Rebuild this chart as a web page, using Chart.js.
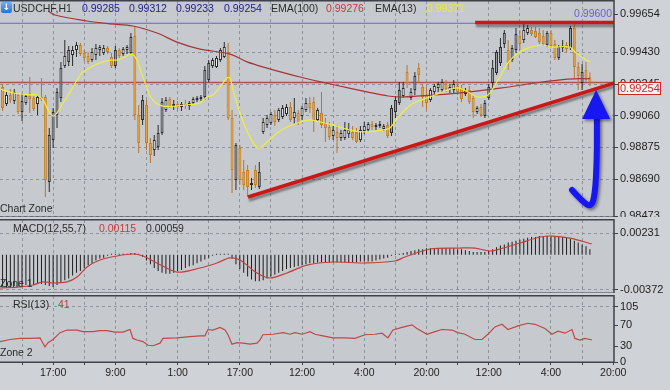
<!DOCTYPE html>
<html>
<head>
<meta charset="utf-8">
<script src="https://cdn.jsdelivr.net/npm/chart.js@4.4.1/dist/chart.umd.min.js"></script>
<style>
    html, body { margin: 0; padding: 0; }
    body {
        width: 670px; height: 390px; position: relative; overflow: hidden;
        background: #cfd2d6;
        font-family: "Liberation Sans", Arial, sans-serif;
    }
    canvas { position: absolute; left: 0; }
    .t { position: absolute; font-size: 10.5px; line-height: 12px; white-space: nowrap; color: #2b2b2b; z-index: 5; }
    .blue { color: #22228a; }
    .red { color: #c23b3b; }
    .yel { color: #e9e93c; }
    .icon {
        position: absolute; left: 1px; top: 2px; width: 11px; height: 11px; z-index: 5;
        background: linear-gradient(#6fb0f0, #2d6fd0); border-radius: 2px;
        color: #fff; font: bold 9px "DejaVu Sans", sans-serif; line-height: 11px; text-align: center;
    }
</style>
</head>
<body>
<canvas id="main" width="670" height="217" style="top:0"></canvas>
<canvas id="macd" width="670" height="74" style="top:219px"></canvas>
<canvas id="rsi" width="670" height="96" style="top:294px"></canvas>

<div class="icon">↓</div>
<span class="t" style="left:13px;top:2px">USDCHF,H1</span>
<span class="t blue" style="left:82px;top:2px">0.99285</span>
<span class="t blue" style="left:129px;top:2px">0.99312</span>
<span class="t blue" style="left:176px;top:2px">0.99233</span>
<span class="t blue" style="left:224px;top:2px">0.99254</span>
<span class="t" style="left:271px;top:2px">EMA(100)</span>
<span class="t red" style="left:326px;top:2px">0.99276</span>
<span class="t" style="left:375px;top:2px">EMA(13)</span>
<span class="t yel" style="left:427px;top:2px">0.99371</span>
<span class="t" style="left:0;top:202px">Chart Zone</span>

<span class="t" style="left:13px;top:222px">MACD(12,55,7)</span>
<span class="t red" style="left:99px;top:222px">0.00115</span>
<span class="t" style="left:146px;top:222px">0.00059</span>
<span class="t" style="left:0;top:277px">Zone 1</span>

<span class="t" style="left:13px;top:298px">RSI(13)</span>
<span class="t red" style="left:58px;top:298px">41</span>
<span class="t" style="left:0;top:346px">Zone 2</span>

<script>
// bar index of the first visible candle (grid line 0 = 17:00 minus 8 bars)
const firstBar = -5;

const opens = [
    0.99227, 0.99128, 0.99181, 0.99146, 0.99181, 0.99081, 0.99134, 0.99175, 0.99163, 0.99128,
    0.99169, 0.99169, 0.98672, 0.98918, 0.99064, 0.99163, 0.99350, 0.99374, 0.99414, 0.99444,
    0.99473, 0.99426, 0.99409, 0.99385, 0.99414, 0.99444, 0.99426, 0.99455, 0.99403, 0.99350,
    0.99444, 0.99420, 0.99444, 0.99426, 0.99525, 0.99064, 0.99035, 0.99122, 0.98900, 0.98859,
    0.98877, 0.98959, 0.99093, 0.99157, 0.99116, 0.99128, 0.99111, 0.99128, 0.99116, 0.99134,
    0.99152, 0.99157, 0.99169, 0.99268, 0.99350, 0.99344, 0.99385, 0.99403, 0.99432, 0.99046,
    0.98684, 0.98871, 0.98731, 0.98743, 0.98655, 0.98743, 0.98643, 0.98965, 0.99006, 0.99017,
    0.99064, 0.99035, 0.99052, 0.99070, 0.99111, 0.99046, 0.99076, 0.99058, 0.99093, 0.99134,
    0.99140, 0.99035, 0.99076, 0.99017, 0.98994, 0.98941, 0.98965, 0.98929, 0.98929, 0.98953,
    0.98965, 0.98965, 0.98918, 0.98970, 0.98976, 0.99011, 0.98994, 0.99000, 0.98982, 0.99006,
    0.98959, 0.99081, 0.99134, 0.99175, 0.99315, 0.99163, 0.99210, 0.99338, 0.99227, 0.99181,
    0.99152, 0.99198, 0.99222, 0.99210, 0.99245, 0.99210, 0.99210, 0.99233, 0.99222, 0.99187,
    0.99210, 0.99163, 0.99081, 0.99111, 0.99058, 0.99163, 0.99251, 0.99309, 0.99368, 0.99479,
    0.99444, 0.99385, 0.99444, 0.99525, 0.99502, 0.99543, 0.99561, 0.99555, 0.99543, 0.99525,
    0.99473, 0.99543, 0.99479, 0.99397, 0.99455, 0.99473, 0.99455, 0.99572, 0.99344, 0.99251,
    0.99327, 0.99285
];
const highs = [
    0.99245, 0.99198, 0.99216, 0.99216, 0.99192, 0.99192, 0.99187, 0.99286, 0.99175, 0.99181,
    0.99280, 0.99181, 0.98988, 0.99105, 0.99222, 0.99374, 0.99502, 0.99467, 0.99467, 0.99490,
    0.99485, 0.99444, 0.99432, 0.99455, 0.99479, 0.99473, 0.99473, 0.99467, 0.99426, 0.99467,
    0.99455, 0.99461, 0.99473, 0.99543, 0.99578, 0.99122, 0.99181, 0.99152, 0.98929, 0.98947,
    0.99006, 0.99163, 0.99169, 0.99169, 0.99152, 0.99146, 0.99140, 0.99152, 0.99146, 0.99169,
    0.99175, 0.99181, 0.99350, 0.99385, 0.99397, 0.99409, 0.99455, 0.99490, 0.99485, 0.99093,
    0.98900, 0.98889, 0.98801, 0.98772, 0.98696, 0.98772, 0.98789, 0.99046, 0.99064, 0.99081,
    0.99093, 0.99105, 0.99122, 0.99128, 0.99140, 0.99163, 0.99093, 0.99116, 0.99163, 0.99169,
    0.99169, 0.99105, 0.99198, 0.99046, 0.99023, 0.99000, 0.99006, 0.98976, 0.99023, 0.99017,
    0.99000, 0.98988, 0.99000, 0.99023, 0.99023, 0.99029, 0.99017, 0.99029, 0.99011, 0.99023,
    0.99122, 0.99175, 0.99257, 0.99257, 0.99356, 0.99222, 0.99315, 0.99368, 0.99245, 0.99227,
    0.99222, 0.99245, 0.99257, 0.99274, 0.99268, 0.99245, 0.99268, 0.99257, 0.99239, 0.99222,
    0.99233, 0.99181, 0.99116, 0.99128, 0.99152, 0.99245, 0.99385, 0.99444, 0.99514, 0.99561,
    0.99502, 0.99473, 0.99572, 0.99561, 0.99601, 0.99590, 0.99578, 0.99578, 0.99572, 0.99561,
    0.99555, 0.99561, 0.99502, 0.99473, 0.99502, 0.99490, 0.99584, 0.99601, 0.99374, 0.99362,
    0.99374, 0.99312
];
const lows = [
    0.99087, 0.99116, 0.99134, 0.99128, 0.99070, 0.99029, 0.99122, 0.99076, 0.99087, 0.99064,
    0.99146, 0.98585, 0.98614, 0.98871, 0.98988, 0.99140, 0.99338, 0.99350, 0.99350, 0.99403,
    0.99409, 0.99379, 0.99362, 0.99374, 0.99385, 0.99409, 0.99414, 0.99420, 0.99338, 0.99338,
    0.99397, 0.99409, 0.99420, 0.99420, 0.99035, 0.98842, 0.99006, 0.98859, 0.98783, 0.98824,
    0.98859, 0.98947, 0.99081, 0.99105, 0.99093, 0.99093, 0.99087, 0.99099, 0.99093, 0.99128,
    0.99140, 0.99146, 0.99152, 0.99257, 0.99338, 0.99338, 0.99374, 0.99397, 0.99035, 0.98608,
    0.98626, 0.98655, 0.98626, 0.98585, 0.98626, 0.98637, 0.98631, 0.98953, 0.98988, 0.99006,
    0.99000, 0.99023, 0.99041, 0.99058, 0.99023, 0.99011, 0.99006, 0.99035, 0.99081, 0.99076,
    0.98965, 0.99023, 0.98988, 0.98906, 0.98918, 0.98918, 0.98842, 0.98912, 0.98918, 0.98929,
    0.98918, 0.98900, 0.98906, 0.98953, 0.98965, 0.98976, 0.98976, 0.98988, 0.98970, 0.98929,
    0.98941, 0.99046, 0.99122, 0.99163, 0.99222, 0.99152, 0.99181, 0.99257, 0.99111, 0.99093,
    0.99140, 0.99181, 0.99198, 0.99198, 0.99198, 0.99192, 0.99192, 0.99181, 0.99140, 0.99175,
    0.99128, 0.99046, 0.99070, 0.99052, 0.99046, 0.99152, 0.99222, 0.99298, 0.99350, 0.99455,
    0.99327, 0.99374, 0.99426, 0.99444, 0.99485, 0.99531, 0.99525, 0.99514, 0.99479, 0.99467,
    0.99461, 0.99455, 0.99385, 0.99385, 0.99432, 0.99432, 0.99444, 0.99280, 0.99210, 0.99210,
    0.99257, 0.99233
];
const closes = [
    0.99105, 0.99181, 0.99152, 0.99198, 0.99081, 0.99146, 0.99175, 0.99157, 0.99099, 0.99169,
    0.99157, 0.98684, 0.98947, 0.99081, 0.99198, 0.99338, 0.99409, 0.99444, 0.99444, 0.99473,
    0.99420, 0.99397, 0.99374, 0.99432, 0.99455, 0.99461, 0.99455, 0.99432, 0.99350, 0.99444,
    0.99409, 0.99449, 0.99461, 0.99520, 0.99064, 0.98900, 0.99152, 0.98900, 0.98830, 0.98918,
    0.98959, 0.99140, 0.99152, 0.99116, 0.99128, 0.99111, 0.99128, 0.99116, 0.99134, 0.99157,
    0.99163, 0.99169, 0.99327, 0.99368, 0.99385, 0.99397, 0.99444, 0.99461, 0.99046, 0.98743,
    0.98889, 0.98684, 0.98655, 0.98643, 0.98667, 0.98655, 0.98731, 0.99023, 0.99046, 0.99070,
    0.99023, 0.99093, 0.99105, 0.99111, 0.99035, 0.99081, 0.99017, 0.99105, 0.99134, 0.99105,
    0.99035, 0.99093, 0.99006, 0.98988, 0.98935, 0.98976, 0.98929, 0.98959, 0.98976, 0.98976,
    0.98929, 0.98906, 0.98976, 0.99000, 0.99011, 0.98994, 0.99006, 0.99011, 0.99000, 0.98941,
    0.99105, 0.99152, 0.99210, 0.99222, 0.99251, 0.99198, 0.99292, 0.99298, 0.99169, 0.99134,
    0.99210, 0.99233, 0.99245, 0.99257, 0.99216, 0.99227, 0.99245, 0.99198, 0.99157, 0.99204,
    0.99140, 0.99081, 0.99105, 0.99064, 0.99134, 0.99227, 0.99338, 0.99432, 0.99461, 0.99543,
    0.99368, 0.99455, 0.99537, 0.99479, 0.99561, 0.99572, 0.99537, 0.99520, 0.99490, 0.99479,
    0.99543, 0.99467, 0.99397, 0.99461, 0.99467, 0.99449, 0.99572, 0.99344, 0.99292, 0.99315,
    0.99268, 0.99254
];

// moving averages as (bar index, price)
const ema13Idx = [-5.66, -3.08, -0.51, 2.06, 3.86, 5.4, 6.68, 7.97, 9.0, 10.54, 12.34, 14.14, 15.68, 18.25, 20.82,
    22.62, 24.42, 26.48, 28.28, 29.56, 30.59, 31.88, 32.9, 34.45, 36.25, 39.33, 41.9, 44.47, 45.76, 47.56, 49.1,
    50.9, 52.7, 53.47, 54.24, 56.04, 58.1, 60.67, 62.98, 65.55, 68.12, 71.47, 74.04, 76.61, 79.95, 84.32, 88.17,
    92.54, 94.6, 96.66, 100.26, 102.83, 106.17, 109.51, 112.08, 114.65, 117.22, 119.79, 121.59, 123.39, 124.94,
    127.51, 130.08, 133.68, 136.25, 140.87, 142.16, 143.96, 146.02];
const ema13Vals = [0.99216, 0.99198, 0.99187, 0.99181, 0.99181, 0.99152, 0.99093, 0.99058, 0.99076, 0.99134, 0.99198,
    0.99268, 0.99315, 0.99350, 0.99374, 0.99385, 0.99385, 0.99403, 0.99420, 0.99385, 0.99315, 0.99239, 0.99175,
    0.99134, 0.99116, 0.99116, 0.99122, 0.99128, 0.99134, 0.99169, 0.99181, 0.99227, 0.99280, 0.99280, 0.99210,
    0.99076, 0.98959, 0.98871, 0.98906, 0.98959, 0.98994, 0.99023, 0.99035, 0.99023, 0.99006, 0.98976, 0.98965,
    0.98976, 0.98988, 0.99052, 0.99128, 0.99152, 0.99181, 0.99210, 0.99222, 0.99198, 0.99169, 0.99181, 0.99239,
    0.99309, 0.99368, 0.99426, 0.99455, 0.99473, 0.99461, 0.99461, 0.99432, 0.99403, 0.99374];

const ema100Idx = [6.68, 8.48, 16.71, 22.62, 28.53, 34.7, 39.85, 45.76, 53.47, 57.84, 62.98, 71.47, 80.46,
    88.95, 94.09, 97.69, 106.17, 114.65, 123.39, 131.88, 140.36, 146.02];
const ema100Vals = [0.99672, 0.99648, 0.99613, 0.99596, 0.99584, 0.99543, 0.99490, 0.99449, 0.99420, 0.99374,
    0.99338, 0.99286, 0.99239, 0.99198, 0.99175, 0.99169, 0.99181, 0.99198, 0.99222, 0.99251, 0.99274, 0.99276];

// MACD(12,55,7) histogram, one value per candle
const macdHist = [
    -0.0033, -0.0034, -0.0034, -0.0033, -0.0033, -0.0033, -0.0032, -0.0032, -0.0032, -0.0031,
    -0.0031, -0.0032, -0.0033, -0.0034, -0.0032, -0.0029, -0.0027, -0.0025, -0.0022, -0.0019,
    -0.0017, -0.0014, -0.0011, -0.0009, -0.0006, -0.0004, -0.0003, -0.0001, 0.0001, 0.0001,
    0.0001, 0.0001, 0.0001, 0.0002, 0.0002, 0.0001, -0.0002, -0.0006, -0.0010, -0.0014,
    -0.0017, -0.0019, -0.0020, -0.0020, -0.0019, -0.0017, -0.0016, -0.0014, -0.0012, -0.0011,
    -0.0009, -0.0007, -0.0005, -0.0003, -0.0001, 0.0001, 0.0001, 0.0001, 0.00005, -0.0004,
    -0.0010, -0.0015, -0.0019, -0.0023, -0.0026, -0.0028, -0.0028, -0.0027, -0.0025, -0.0023,
    -0.0021, -0.0019, -0.0017, -0.0015, -0.0014, -0.0013, -0.0012, -0.0011, -0.0010, -0.0009,
    -0.0009, -0.0008, -0.0008, -0.0008, -0.0008, -0.0008, -0.0008, -0.0008, -0.0008, -0.0008,
    -0.0008, -0.0008, -0.0007, -0.0007, -0.0007, -0.0007, -0.0006, -0.0005, -0.0004, -0.0003,
    -0.0001, 0.00005, 0.0001, 0.0002, 0.0003, 0.0004, 0.0005, 0.0006, 0.0006, 0.0007,
    0.0007, 0.0007, 0.0007, 0.0007, 0.0007, 0.0007, 0.0007, 0.0006, 0.0006, 0.0005,
    0.0004, 0.0003, 0.0003, 0.0003, 0.0003, 0.0004, 0.0006, 0.0008, 0.0010, 0.0011,
    0.0013, 0.0014, 0.0015, 0.0016, 0.0017, 0.0018, 0.0019, 0.0019, 0.0020, 0.0020,
    0.0020, 0.0020, 0.0020, 0.0019, 0.0019, 0.0018, 0.0017, 0.0015, 0.0013, 0.0011,
    0.0009, 0.0006
];
const sigIdx = [-5.66, -0.51, 2.83, 5.4, 7.97, 11.57, 14.14, 16.71, 20.05, 24.42, 28.53, 31.11, 34.7, 39.85,
    45.76, 50.13, 53.47, 56.04, 60.41, 63.75, 68.12, 73.26, 79.95, 88.17, 95.89, 98.46, 104.9, 112.6, 116.45,
    120.3, 122.9, 128.0, 133.2, 136.2, 140.9, 146.5];
const sigVals = [-0.00351, -0.00340, -0.00319, -0.00287, -0.00298, -0.00287, -0.00235, -0.00129, -0.00055,
    -0.00012, 0.00009, -0.00012, -0.00086, -0.00182, -0.00139, -0.00086, -0.00033, -0.00055, -0.00192, -0.00245,
    -0.00192, -0.00108, -0.00076, -0.00086, -0.00065, -0.00023, 0.00062, 0.00072, 0.00072, 0.00041, 0.00062,
    0.00125, 0.00189, 0.00199, 0.00178, 0.00115];

// RSI(13)
const rsiIdx = [-5.66, -3.08, -0.51, 2.06, 4.63, 5.14, 5.91, 6.68, 7.97, 9.77, 11.57, 14.14, 15.68, 18.25, 20.05,
    21.85, 23.91, 25.96, 27.76, 28.53, 29.56, 31.11, 32.39, 33.68, 35.48, 36.25, 39.85, 42.42, 45.76, 47.04, 47.81,
    49.1, 50.9, 52.19, 52.96, 53.98, 55.27, 56.81, 58.61, 60.41, 61.18, 61.95, 64.52, 67.1, 68.89, 70.18, 71.98,
    74.04, 75.32, 77.38, 79.95, 83.03, 85.6, 88.17, 90.75, 92.54, 94.09, 95.37, 97.69, 100.26, 101.54, 104.11,
    106.17, 107.97, 110.54, 112.08, 113.88, 116.45, 118.25, 119.79, 121.59, 123.39, 124.94, 127.51, 130.08,
    131.88, 134.45, 136.25, 137.79, 139.59, 141.39, 142.16, 143.44, 144.73, 146.53];
const rsiVals = [39, 43, 45, 45, 46, 39, 29, 37, 43, 56, 61, 61, 58, 58, 60, 60, 57, 57, 62, 45, 42, 39, 32, 31,
    36, 45, 46, 48, 50, 50, 62, 61, 66, 61, 52, 34, 37, 36, 34, 36, 42, 52, 53, 56, 53, 56, 53, 58, 53, 50, 46,
    46, 45, 52, 53, 55, 46, 61, 66, 71, 64, 53, 58, 62, 61, 56, 53, 43, 43, 53, 67, 72, 62, 69, 74, 72, 64, 53,
    59, 55, 62, 45, 42, 45, 42];

// drawn objects
const supportIdx = [58.1, 152.2];
const supportPrice = [0.98585, 0.99250];
const resistIdx = [116.5, 152.2];
const resistPrice = [0.99604, 0.99604];
const levelPrice = 0.99600;
const arrowIdx = [141.4, 144.2, 146.3, 147.3, 147.8, 147.8];
const arrowPrice = [0.98626, 0.98556, 0.98526, 0.98597, 0.98801, 0.99060];
const arrowHeadIdx = [147.6, 144.0, 151.2];
const arrowHeadPrice = [0.99210, 0.99040, 0.99040];

// axes
const xMin = -5.66, xMax = 152.2;
const gridIdx = [0, 8, 16, 24, 32, 40, 48, 56, 64, 72, 80, 88, 96, 104, 112, 120, 128, 136, 144];
const timeIdx = [8, 24, 40, 56, 72, 88, 104, 120, 136, 152];
const timeLabels = ['17:00', '9:00', '1:00', '17:00', '12:00', '4:00', '20:00', '12:00', '4:00', '20:00'];
const priceTicks = [0.99654, 0.99430, 0.99245, 0.99060, 0.98875, 0.98690, 0.98473];
const macdTicks = [0.00231, -0.00372];
const rsiTicks = [105, 70, 30, 0];

const colors = {
    plot: '#c6cacf',
    grid: '#8d949b',
    frame: '#3f4349',
    text: '#1e1e1e',
    bullFill: '#f3f3f3',
    bullTall: '#9da2a7',
    bullEdge: '#2a2a2a',
    bearFill: '#e9a53c',
    bearEdge: '#c47f22',
    bearWick: '#b8752a',
    ema13: '#efef3a',
    ema100: '#a43636',
    trend: '#cc1717',
    level: '#6d5fd0',
    arrow: '#1717f0',
};

Chart.defaults.font.family = '"Liberation Sans", Arial, sans-serif';
Chart.defaults.color = colors.text;

const pts = (xs, ys) => xs.map((x, i) => ({ x, y: ys[i] }));
const isBull = (i) => closes[i] >= opens[i];

// long rising bodies render grey in the terminal, short ones white
function bodyFill(c) {
    const i = c.dataIndex;
    if (!isBull(i)) return colors.bearFill;
    return closes[i] - opens[i] > 0.0006 ? colors.bullTall : colors.bullFill;
}

const panelPlugin = {
    id: 'panel',
    beforeDraw(chart) {
        const { ctx, chartArea: a } = chart;
        ctx.save();
        ctx.fillStyle = colors.plot;
        ctx.fillRect(a.left, a.top, a.right - a.left, a.bottom - a.top);
        ctx.restore();
    },
    beforeDatasetDraw(chart, args) {
        if (chart.data.datasets[args.index].shadow) {
            const ctx = chart.ctx;
            ctx.save();
            ctx.shadowColor = 'rgba(40,40,40,0.45)';
            ctx.shadowOffsetX = 1;
            ctx.shadowOffsetY = 3;
            ctx.shadowBlur = 2;
        }
    },
    afterDatasetDraw(chart, args) {
        if (chart.data.datasets[args.index].shadow) chart.ctx.restore();
    },
    afterDraw(chart) {
        const { ctx, chartArea: a } = chart;
        ctx.save();
        ctx.strokeStyle = colors.frame;
        ctx.lineWidth = 1.5;
        ctx.strokeRect(a.left - 1, a.top - 0.25, a.right - a.left + 1, a.bottom - a.top + 0.5);
        ctx.restore();
    },
};

const mainOverlay = {
    id: 'mainOverlay',
    beforeDatasetsDraw(chart) {
        const { ctx, chartArea: a, scales: { y } } = chart;
        ctx.save();
        ctx.font = '10.5px "Liberation Sans", Arial, sans-serif';
        ctx.fillStyle = colors.level;
        ctx.textAlign = 'right';
        ctx.textBaseline = 'bottom';
        ctx.fillText(levelPrice.toFixed(5), a.right - 2, y.getPixelForValue(levelPrice) - 4);
        ctx.restore();
    },
    afterDraw(chart) {
        const { ctx, chartArea: a, scales: { x, y } } = chart;
        // blue arrow
        ctx.save();
        ctx.beginPath();
        ctx.rect(a.left, a.top, a.right - a.left, a.bottom - a.top);
        ctx.clip();
        ctx.shadowColor = 'rgba(20,20,40,0.5)';
        ctx.shadowOffsetX = 2;
        ctx.shadowOffsetY = 2;
        ctx.shadowBlur = 3;
        ctx.strokeStyle = colors.arrow;
        ctx.fillStyle = colors.arrow;
        ctx.lineWidth = 6;
        ctx.lineCap = 'round';
        ctx.lineJoin = 'round';
        const p = arrowIdx.map((v, i) => [x.getPixelForValue(v), y.getPixelForValue(arrowPrice[i])]);
        ctx.beginPath();
        ctx.moveTo(p[0][0], p[0][1]);
        for (let i = 1; i < p.length - 1; i++) {
            const mx = (p[i][0] + p[i + 1][0]) / 2, my = (p[i][1] + p[i + 1][1]) / 2;
            ctx.quadraticCurveTo(p[i][0], p[i][1], mx, my);
        }
        ctx.lineTo(p[p.length - 1][0], p[p.length - 1][1]);
        ctx.stroke();
        const h = arrowHeadIdx.map((v, i) => [x.getPixelForValue(v), y.getPixelForValue(arrowHeadPrice[i])]);
        ctx.beginPath();
        ctx.moveTo(h[0][0], h[0][1]);
        ctx.lineTo(h[1][0], h[1][1]);
        ctx.lineTo(h[2][0], h[2][1]);
        ctx.closePath();
        ctx.fill();
        ctx.restore();

        // current price box on the axis
        const last = closes[closes.length - 1];
        const py = Math.round(y.getPixelForValue(last));
        ctx.save();
        ctx.fillStyle = '#f2f2f2';
        ctx.fillRect(a.right + 4, py, 43, 13);
        ctx.strokeStyle = '#cc2a2a';
        ctx.lineWidth = 1;
        ctx.strokeRect(a.right + 4.5, py + 0.5, 42, 12);
        ctx.fillStyle = '#cc2a2a';
        ctx.font = '11px "Liberation Sans", Arial, sans-serif';
        ctx.textBaseline = 'middle';
        ctx.fillText(last.toFixed(5), a.right + 6, py + 7);
        ctx.restore();
    },
};

function xScale(withLabels) {
    const ticks = withLabels ? gridIdx.concat([152]) : gridIdx;
    return {
        type: 'linear',
        min: xMin,
        max: xMax,
        offset: false,
        afterBuildTicks: (s) => { s.ticks = ticks.map((v) => ({ value: v })); },
        afterFit: (s) => {
            s.height = withLabels ? 28 : 0;
            s.paddingLeft = 0;
            s.paddingRight = 0;
        },
        ticks: {
            display: withLabels,
            autoSkip: false,
            maxRotation: 0,
            padding: 2,
            font: { size: 10.5 },
            callback: (v) => {
                const k = timeIdx.indexOf(v);
                return k >= 0 ? timeLabels[k] : '';
            },
        },
        grid: {
            offset: false,
            color: (c) => (c.tick && c.tick.value === 152 ? 'rgba(0,0,0,0)' : colors.grid),
            drawTicks: withLabels,
            tickLength: 3,
            tickColor: colors.frame,
        },
        border: { display: false, dash: [3, 3] },
    };
}

function yScale(min, max, tickVals, fmt, gridFilter) {
    return {
        type: 'linear',
        position: 'right',
        min,
        max,
        afterBuildTicks: (s) => { s.ticks = tickVals.map((v) => ({ value: v })); },
        afterFit: (s) => {
            s.width = 56;
            s.paddingTop = 0;
            s.paddingBottom = 0;
        },
        ticks: { padding: 2, font: { size: 11 }, color: colors.text, callback: fmt },
        grid: {
            color: (c) => (c.tick && gridFilter(c.tick.value) ? colors.grid : 'rgba(0,0,0,0)'),
            drawTicks: true,
            tickLength: 4,
            tickColor: colors.frame,
        },
        border: { display: false, dash: [3, 3] },
    };
}

const common = {
    responsive: false,
    devicePixelRatio: 1,
    animation: false,
    events: [],
    plugins: { legend: { display: false }, tooltip: { enabled: false } },
};

const bars = opens.map((o, i) => firstBar + i);

new Chart(document.getElementById('main'), {
    type: 'bar',
    data: {
        datasets: [
            {
                type: 'line', order: 20,
                data: [{ x: xMin, y: closes[closes.length - 1] }, { x: xMax, y: closes[closes.length - 1] }],
                borderColor: 'rgba(168,62,62,0.85)', borderWidth: 1.5, pointRadius: 0,
            },
            {
                type: 'line', order: 19,
                data: [{ x: xMin, y: levelPrice }, { x: xMax, y: levelPrice }],
                borderColor: colors.level, borderWidth: 1.2, pointRadius: 0,
            },
            {
                order: 15, grouped: false, barThickness: 1, inflateAmount: 0, borderWidth: 0,
                data: bars.map((b, i) => ({ x: b, y: [lows[i], highs[i]] })),
                backgroundColor: (c) => (isBull(c.dataIndex) ? colors.bullEdge : colors.bearWick),
            },
            {
                order: 14, grouped: false, barThickness: 3, inflateAmount: 0, borderWidth: 1,
                borderSkipped: false, minBarLength: 1,
                data: bars.map((b, i) => ({ x: b, y: [opens[i], closes[i]] })),
                backgroundColor: bodyFill,
                borderColor: (c) => (isBull(c.dataIndex) ? colors.bullEdge : colors.bearEdge),
            },
            {
                type: 'line', order: 12, data: pts(ema100Idx, ema100Vals),
                borderColor: colors.ema100, borderWidth: 1.2, pointRadius: 0, tension: 0.35,
            },
            {
                type: 'line', order: 11, data: pts(ema13Idx, ema13Vals),
                borderColor: colors.ema13, borderWidth: 1.2, pointRadius: 0, tension: 0.35,
            },
            {
                type: 'line', order: 5, shadow: true, data: pts(supportIdx, supportPrice),
                borderColor: colors.trend, borderWidth: 3.5, pointRadius: 0,
            },
            {
                type: 'line', order: 4, shadow: true, data: pts(resistIdx, resistPrice),
                borderColor: colors.trend, borderWidth: 3.5, pointRadius: 0,
            },
        ],
    },
    options: {
        ...common,
        layout: { padding: { top: 1, left: 0, right: 0, bottom: 0 } },
        scales: {
            x: xScale(false),
            y: yScale(0.98468, 0.99730, priceTicks, (v) => v.toFixed(5), (v) => v !== 0.99654),
        },
    },
    plugins: [panelPlugin, mainOverlay],
});

new Chart(document.getElementById('macd'), {
    type: 'bar',
    data: {
        datasets: [
            {
                order: 2, grouped: false, barThickness: 1, inflateAmount: 0, borderWidth: 0, minBarLength: 1,
                data: bars.map((b, i) => ({ x: b, y: macdHist[i] })),
                backgroundColor: '#1c1c1c',
            },
            {
                type: 'line', order: 1, data: pts(sigIdx, sigVals),
                borderColor: '#c24040', borderWidth: 1.2, pointRadius: 0, tension: 0.3,
            },
        ],
    },
    options: {
        ...common,
        layout: { padding: { top: 1, left: 0, right: 0, bottom: 0 } },
        scales: {
            x: xScale(false),
            y: yScale(-0.00404, 0.00369, macdTicks, (v) => v.toFixed(5), () => true),
        },
    },
    plugins: [panelPlugin],
});

new Chart(document.getElementById('rsi'), {
    type: 'line',
    data: {
        datasets: [
            {
                data: pts(rsiIdx, rsiVals),
                borderColor: '#bf4848', borderWidth: 1.2, pointRadius: 0, tension: 0,
            },
        ],
    },
    options: {
        ...common,
        layout: { padding: { top: 2, left: 0, right: 0, bottom: 0 } },
        scales: {
            x: xScale(true),
            y: yScale(0, 126, rsiTicks, (v) => String(v), (v) => v === 105),
        },
    },
    plugins: [panelPlugin],
});
</script>
</body>
</html>
